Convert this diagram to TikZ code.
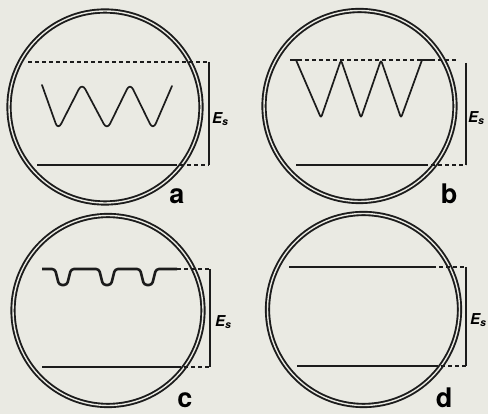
\documentclass[tikz,border=0pt]{standalone}
\usepackage{fontspec}
\setmainfont{TeX Gyre Heros}
\begin{document}
\begin{tikzpicture}[x=1pt,y=-1pt,
  ring/.style={draw=ink,line width=1.9pt,double=paper,double distance=1.4pt},
  dashline/.style={draw=ink,line width=1.1pt,dash pattern=on 4pt off 3pt},
  baseline/.style={draw=ink,line width=1.8pt},
  topline/.style={draw=ink,line width=2.6pt},
  bar/.style={draw=ink,line width=2.2pt},
  trace/.style={draw=ink,line width=1.7pt,line join=round,line cap=round},
  panellabel/.style={anchor=base,inner sep=0pt,font=\fontsize{27}{27}\selectfont\bfseries},
  eslabel/.style={anchor=west,inner sep=0pt,font=\fontsize{15}{15}\selectfont\bfseries\itshape}]
\definecolor{paper}{RGB}{234,234,227}
\definecolor{ink}{RGB}{28,28,28}
\fill[paper] (0,0) rectangle (488,414);
\useasboundingbox (0,0) rectangle (488,414);

% ---------- panel a ----------
\draw[ring] (105,107) circle[radius=96];
\draw[dashline] (28,62) -- (209,62);
\draw[baseline] (37,165) -- (173,165);
\draw[dashline] (173,165) -- (209,165);
\draw[bar] (209,62) -- (209,165);
\draw[trace,rounded corners=7pt] (42,85) -- (58,130) -- (82,83) -- (107,130) -- (130,83) -- (153,130) -- (172,86);
\node[eslabel] (esa) at (212,119) {E\textsubscript{s}};
\node[panellabel] (la) at (177,204) {a};

% ---------- panel b ----------
\draw[ring] (359.5,106) circle[radius=95.5];
\draw[dashline] (291,60) -- (457,60);
\draw[baseline] (296,165) -- (424,165);
\draw[dashline] (424,165) -- (466,165);
\draw[bar] (466,63) -- (466,165);
\draw[topline] (290,60) -- (299,60);
\draw[topline] (421,60) -- (432,60);
\draw[trace,rounded corners=2.5pt] (296,60) -- (321,118) -- (341,60) -- (361,118) -- (381,60) -- (401,118) -- (422,60);
\node[eslabel] (esb) at (468,118) {E\textsubscript{s}};
\node[panellabel] (lb) at (449,204) {b};

% ---------- panel c ----------
\draw[ring] (108,310.5) circle[radius=95];
\draw[dashline] (177,269) -- (210,269);
\draw[topline,line join=round,rounded corners=3pt]
  (42,269) -- (55,269) -- (59,285) -- (67,285) -- (71,269)
  -- (99,269) -- (103,285) -- (111,285) -- (115,269)
  -- (140,269) -- (144,285) -- (152,285) -- (156,269) -- (177,269);
\draw[baseline] (42,367) -- (177,367);
\draw[dashline] (177,367) -- (210,367);
\draw[bar] (210,269) -- (210,367);
\node[eslabel] (esc) at (215,322) {E\textsubscript{s}};
\node[panellabel] (lc) at (185,408) {c};

% ---------- panel d ----------
\draw[ring] (363.5,309.5) circle[radius=96];
\draw[topline] (289,267) -- (432,267);
\draw[dashline] (432,267) -- (466,267);
\draw[baseline] (297,366) -- (434,366);
\draw[dashline] (434,366) -- (466,366);
\draw[bar] (466,267) -- (466,366);
\node[eslabel] (esd) at (470,320) {E\textsubscript{s}};
\node[panellabel] (ld) at (444,408) {d};
\end{tikzpicture}
\end{document}
